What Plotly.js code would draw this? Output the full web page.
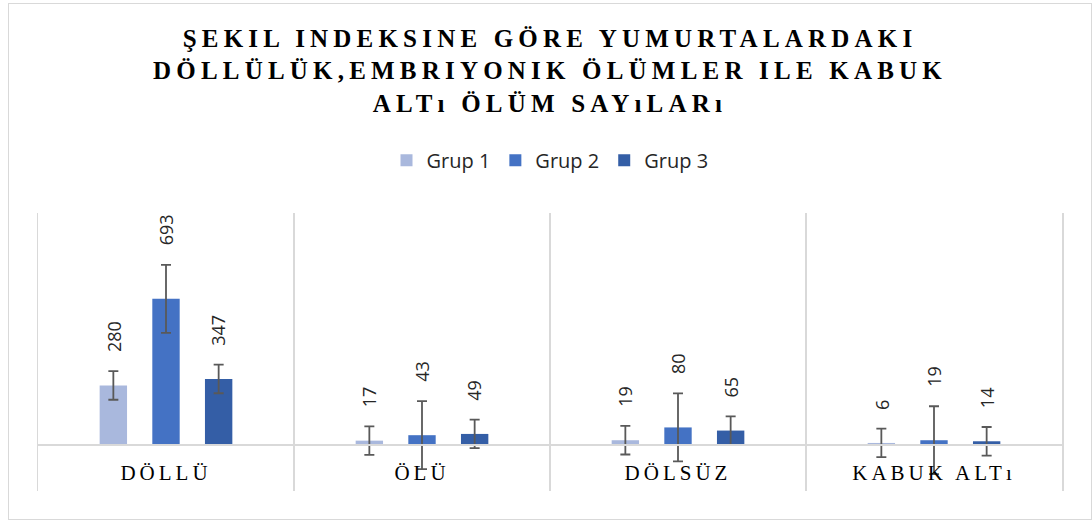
<!DOCTYPE html>
<html>
<head>
<meta charset="utf-8">
<script src="https://cdn.plot.ly/plotly-3.0.1.min.js"></script>
<style>
  html, body { margin: 0; padding: 0; background: #fff; }
  #wrap { position: relative; width: 1092px; height: 522px; }
  #chart { position: absolute; left: 0; top: 0; width: 1092px; height: 522px; }
  #frame { position: absolute; left: 8px; top: 3px; width: 1084px; height: 517px; box-sizing: border-box;
           border: 1.5px solid #d9d9d9; pointer-events: none; }
  .gtitle { letter-spacing: 5.2px; }
  .xtick text { letter-spacing: 4px; }
</style>
</head>
<body>
<div id="wrap"><div id="chart"></div><div id="frame"></div></div>
<script>
// ---- data ----
const categories = ["DÖLLÜ", "ÖLÜ", "DÖLSÜZ", "KABUK ALTı"];
const seriesNames = ["Grup 1", "Grup 2", "Grup 3"];
const grup1 = [280, 17, 19, 6];
const grup2 = [693, 43, 80, 19];
const grup3 = [311, 49, 65, 14];
const grup1Labels = ["280", "17", "19", "6"];
const grup2Labels = ["693", "43", "80", "19"];
const grup3Labels = ["347", "49", "65", "14"];
const grup1Err = [68, 68, 68, 68];
const grup2Err = [162, 162, 162, 162];
const grup3Err = [68, 68, 68, 68];
const titleLines = [
  "ŞEKIL INDEKSINE GÖRE YUMURTALARDAKI",
  "DÖLLÜLÜK,EMBRIYONIK ÖLÜMLER ILE KABUK",
  "ALTı ÖLÜM SAYıLARı"
];

// ---- styling ----
const colors = ["#A9B8DD", "#4472C4", "#345EA6"];
const yRange = [-223, 1102];
const bargap = 0.383, bargroupgap = 0.48;
const values = [grup1, grup2, grup3];
const labels = [grup1Labels, grup2Labels, grup3Labels];
const errs = [grup1Err, grup2Err, grup3Err];

const traces = values.map((v, j) => ({
  type: "bar",
  name: seriesNames[j],
  x: categories,
  y: v,
  marker: { color: colors[j] },
  error_y: { type: "data", array: errs[j], visible: true, color: "#595959", thickness: 1.8, width: 5 },
  hoverinfo: "skip",
  cliponaxis: false
}));

const slot = (1 - bargap) / values.length;
const annotations = [];
values.forEach((v, j) => {
  v.forEach((val, i) => {
    annotations.push({
      x: i + (j - (values.length - 1) / 2) * slot,
      y: val + errs[j][i],
      xref: "x", yref: "y",
      text: labels[j][i],
      textangle: -90,
      showarrow: false,
      xanchor: "center", yanchor: "bottom",
      yshift: 17,
      font: { family: "Open Sans, Liberation Sans, sans-serif", size: 18, color: "#262626" }
    });
  });
});

const zeroFrac = -yRange[0] / (yRange[1] - yRange[0]);

const layout = {
  width: 1092, height: 522,
  margin: { l: 38, r: 30, t: 213, b: 31, pad: 0 },
  paper_bgcolor: "rgba(0,0,0,0)", plot_bgcolor: "#fff",
  barmode: "group", bargap: bargap, bargroupgap: bargroupgap,
  title: {
    text: "<b>" + titleLines.join("<br>") + "</b>",
    font: { family: "Liberation Serif, Times New Roman, serif", size: 25, color: "#000" },
    x: 0.5, xref: "paper", xanchor: "center",
    y: 0.91, yref: "container", yanchor: "top"
  },
  showlegend: true,
  legend: {
    orientation: "h", x: 0.5, xanchor: "center", y: 1.19, yanchor: "middle",
    font: { family: "Open Sans, Liberation Sans, sans-serif", size: 20, color: "#262626" },
    itemwidth: 30, traceorder: "normal", bgcolor: "rgba(0,0,0,0)"
  },
  xaxis: {
    type: "category", range: [-0.5, categories.length - 0.5],
    tickson: "boundaries", ticks: "",
    showgrid: true, gridcolor: "#d9d9d9", gridwidth: 1.5,
    anchor: "free", position: zeroFrac,
    showline: true, linecolor: "#d9d9d9", linewidth: 1.5,
    ticklabelstandoff: 9,
    tickfont: { family: "Liberation Serif, Times New Roman, serif", size: 21, color: "#000" },
    fixedrange: true
  },
  yaxis: {
    range: yRange, showgrid: false, zeroline: false, showticklabels: false, ticks: "",
    showline: true, mirror: true, linecolor: "#d9d9d9", linewidth: 1.5,
    fixedrange: true
  },
  annotations: annotations
};

Plotly.newPlot("chart", traces, layout, { displayModeBar: false, staticPlot: true });
</script>
</body>
</html>
